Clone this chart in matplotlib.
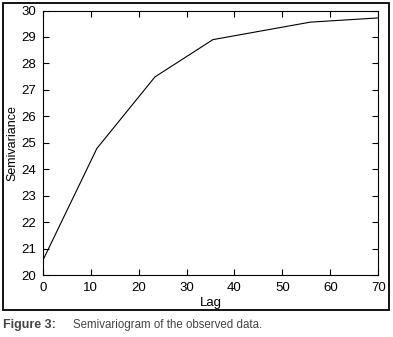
import matplotlib
matplotlib.use("Agg")
import matplotlib.pyplot as plt
from matplotlib.patches import Rectangle

lag = [0, 11.3, 23.4, 35.5, 55.8, 70]
semivariance = [20.55, 24.79, 27.49, 28.9, 29.56, 29.72]
xticks = [0, 10, 20, 30, 40, 50, 60, 70]
yticks = [20, 21, 22, 23, 24, 25, 26, 27, 28, 29, 30]

W, H = 393, 337
fig = plt.figure(figsize=(W / 100, H / 100), dpi=100)
fam = ['Liberation Sans Narrow', 'Liberation Sans', 'DejaVu Sans']

# outer frame
fig.patches.append(Rectangle((3 / W, 1 - 310 / H), (389 - 3) / W, (310 - 3) / H,
                             transform=fig.transFigure, fill=False,
                             edgecolor='black', linewidth=1.3))

ax = fig.add_axes([42.7 / W, 1 - 275.3 / H, (378.3 - 42.7) / W, (275.3 - 10.5) / H])
ax.plot(lag, semivariance, color='black', linewidth=0.8)
ax.set_xlim(0, 70)
ax.set_ylim(20, 30)
ax.set_xticks(xticks)
ax.set_yticks(yticks)
ax.tick_params(direction='in', length=4, width=0.8, top=True, right=True,
               labelsize=9.5)
ax.tick_params(axis='x', pad=5)
ax.tick_params(axis='y', pad=5)
for lab in ax.get_xticklabels() + ax.get_yticklabels():
    lab.set_family(fam)
for s in ax.spines.values():
    s.set_linewidth(0.8)
ax.set_xlabel('Lag', family=fam, fontsize=9.5, labelpad=2)
ax.set_ylabel('Semivariance', family=fam, fontsize=9, labelpad=2)

fig.text(3 / W, 1 - 325 / H, 'Figure 3:', family=fam, fontsize=9,
         fontweight='bold', color='#444444', va='center')
fig.text(73 / W, 1 - 325 / H, 'Semivariogram of the observed data.', family=fam,
         fontsize=8.3, color='#444444', va='center')

fig.savefig('out.png', dpi=100)
